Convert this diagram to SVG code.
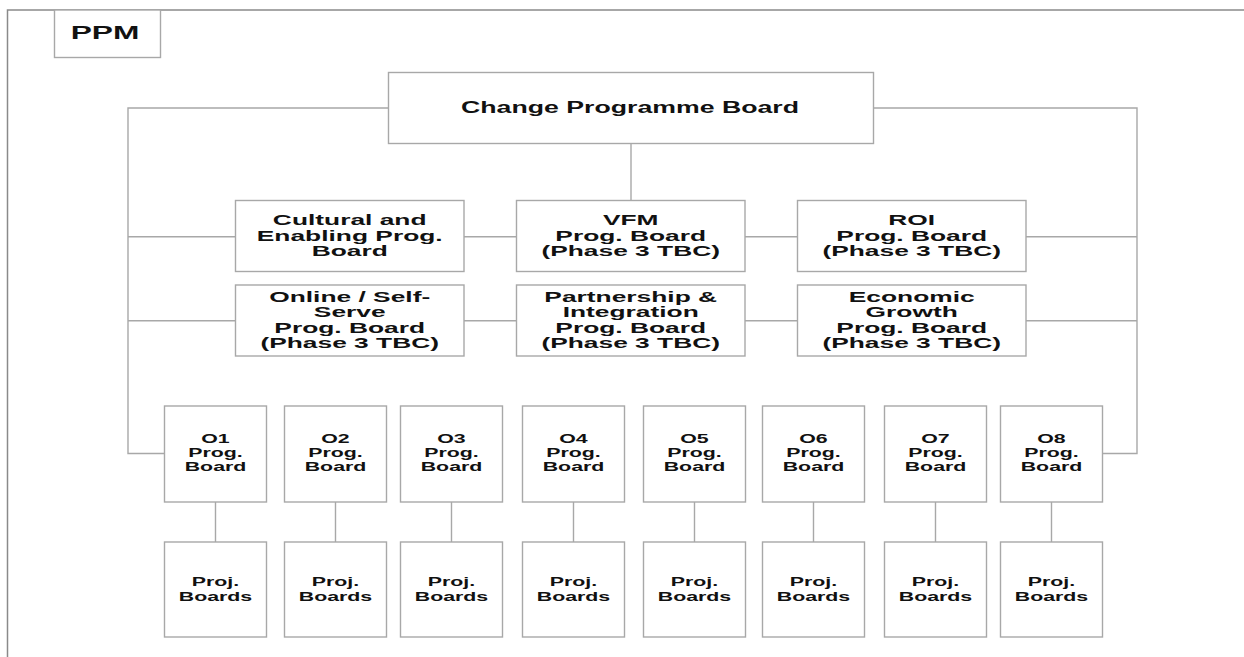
<svg xmlns="http://www.w3.org/2000/svg" width="1244" height="657" viewBox="0 0 1244 657">
<style>
.frame{fill:none;stroke:#8a8a8a;stroke-width:1.5}
.box{fill:#fff;stroke:#a8a8a8;stroke-width:1.4}
.ln{fill:none;stroke:#a8a8a8;stroke-width:1.4}
text{font-family:"Liberation Sans",Arial,sans-serif;font-weight:bold;fill:#111;text-anchor:middle}
.t14{font-size:15.5px}
.t12{font-size:13.5px}
.t15{font-size:17px}
.t16{font-size:18px}
</style>
<rect width="1244" height="657" fill="#fff"/>
<path class="frame" d="M7.5,657 V10 H1244"/>
<g id="ppm">
<rect class="box" x="54.5" y="10" width="106" height="47.5"/>
<g transform="translate(105,0) scale(1.76,1)"><text class="t16" x="0" y="39.5">PPM</text></g>
</g>
<g id="connectors">
<path class="ln" d="M631,143.5 V200.5"/>
<path class="ln" d="M388.5,108 H128 V453.5 H164.5"/>
<path class="ln" d="M873.5,108 H1137 V453.5 H1102.5"/>
<path class="ln" d="M128,236.7 H235.5 M464,236.7 H516.5 M745,236.7 H797.5 M1026,236.7 H1137"/>
<path class="ln" d="M128,320.7 H235.5 M464,320.7 H516.5 M745,320.7 H797.5 M1026,320.7 H1137"/>
<path class="ln" d="M215.5,502 V542 M335.5,502 V542 M451.5,502 V542 M573.5,502 V542 M694.5,502 V542 M813.5,502 V542 M935.5,502 V542 M1051.5,502 V542"/>
</g>
<g id="cpb">
<rect class="box" x="388.5" y="72.5" width="485" height="71"/>
<g transform="translate(630,0) scale(1.57,1)"><text class="t15" x="0" y="113">Change Programme Board</text></g>
</g>
<g id="cultural">
<rect class="box" x="235.5" y="200.5" width="228.5" height="71"/>
<g transform="translate(349.7,0) scale(1.7,1)"><text class="t14" x="0" y="225.5">Cultural and</text><text class="t14" x="0" y="241">Enabling Prog.</text><text class="t14" x="0" y="256.5">Board</text></g>
</g>
<g id="vfm">
<rect class="box" x="516.5" y="200.5" width="228.5" height="71"/>
<g transform="translate(630.7,0) scale(1.7,1)"><text class="t14" x="0" y="225.5">VFM</text><text class="t14" x="0" y="241">Prog. Board</text><text class="t14" x="0" y="256.5">(Phase 3 TBC)</text></g>
</g>
<g id="roi">
<rect class="box" x="797.5" y="200.5" width="228.5" height="71"/>
<g transform="translate(911.7,0) scale(1.7,1)"><text class="t14" x="0" y="225.5">ROI</text><text class="t14" x="0" y="241">Prog. Board</text><text class="t14" x="0" y="256.5">(Phase 3 TBC)</text></g>
</g>
<g id="online">
<rect class="box" x="235.5" y="285" width="228.5" height="71"/>
<g transform="translate(349.7,0) scale(1.7,1)"><text class="t14" x="0" y="302">Online / Self-</text><text class="t14" x="0" y="317.5">Serve</text><text class="t14" x="0" y="333">Prog. Board</text><text class="t14" x="0" y="348.5">(Phase 3 TBC)</text></g>
</g>
<g id="partnership">
<rect class="box" x="516.5" y="285" width="228.5" height="71"/>
<g transform="translate(630.7,0) scale(1.7,1)"><text class="t14" x="0" y="302">Partnership &amp;</text><text class="t14" x="0" y="317.5">Integration</text><text class="t14" x="0" y="333">Prog. Board</text><text class="t14" x="0" y="348.5">(Phase 3 TBC)</text></g>
</g>
<g id="economic">
<rect class="box" x="797.5" y="285" width="228.5" height="71"/>
<g transform="translate(911.7,0) scale(1.7,1)"><text class="t14" x="0" y="302">Economic</text><text class="t14" x="0" y="317.5">Growth</text><text class="t14" x="0" y="333">Prog. Board</text><text class="t14" x="0" y="348.5">(Phase 3 TBC)</text></g>
</g>
<g id="o1"><rect class="box" x="164.5" y="406" width="102" height="96"/><g transform="translate(215.5,0) scale(1.58,1)"><text class="t12" x="0" y="443.5">O1</text><text class="t12" x="0" y="457.5">Prog.</text><text class="t12" x="0" y="471.5">Board</text></g></g>
<g id="o2"><rect class="box" x="284.5" y="406" width="102" height="96"/><g transform="translate(335.5,0) scale(1.58,1)"><text class="t12" x="0" y="443.5">O2</text><text class="t12" x="0" y="457.5">Prog.</text><text class="t12" x="0" y="471.5">Board</text></g></g>
<g id="o3"><rect class="box" x="400.5" y="406" width="102" height="96"/><g transform="translate(451.5,0) scale(1.58,1)"><text class="t12" x="0" y="443.5">O3</text><text class="t12" x="0" y="457.5">Prog.</text><text class="t12" x="0" y="471.5">Board</text></g></g>
<g id="o4"><rect class="box" x="522.5" y="406" width="102" height="96"/><g transform="translate(573.5,0) scale(1.58,1)"><text class="t12" x="0" y="443.5">O4</text><text class="t12" x="0" y="457.5">Prog.</text><text class="t12" x="0" y="471.5">Board</text></g></g>
<g id="o5"><rect class="box" x="643.5" y="406" width="102" height="96"/><g transform="translate(694.5,0) scale(1.58,1)"><text class="t12" x="0" y="443.5">O5</text><text class="t12" x="0" y="457.5">Prog.</text><text class="t12" x="0" y="471.5">Board</text></g></g>
<g id="o6"><rect class="box" x="762.5" y="406" width="102" height="96"/><g transform="translate(813.5,0) scale(1.58,1)"><text class="t12" x="0" y="443.5">O6</text><text class="t12" x="0" y="457.5">Prog.</text><text class="t12" x="0" y="471.5">Board</text></g></g>
<g id="o7"><rect class="box" x="884.5" y="406" width="102" height="96"/><g transform="translate(935.5,0) scale(1.58,1)"><text class="t12" x="0" y="443.5">O7</text><text class="t12" x="0" y="457.5">Prog.</text><text class="t12" x="0" y="471.5">Board</text></g></g>
<g id="o8"><rect class="box" x="1000.5" y="406" width="102" height="96"/><g transform="translate(1051.5,0) scale(1.58,1)"><text class="t12" x="0" y="443.5">O8</text><text class="t12" x="0" y="457.5">Prog.</text><text class="t12" x="0" y="471.5">Board</text></g></g>
<g id="p1"><rect class="box" x="164.5" y="542" width="102" height="95"/><g transform="translate(215.5,0) scale(1.58,1)"><text class="t12" x="0" y="586.5">Proj.</text><text class="t12" x="0" y="601.5">Boards</text></g></g>
<g id="p2"><rect class="box" x="284.5" y="542" width="102" height="95"/><g transform="translate(335.5,0) scale(1.58,1)"><text class="t12" x="0" y="586.5">Proj.</text><text class="t12" x="0" y="601.5">Boards</text></g></g>
<g id="p3"><rect class="box" x="400.5" y="542" width="102" height="95"/><g transform="translate(451.5,0) scale(1.58,1)"><text class="t12" x="0" y="586.5">Proj.</text><text class="t12" x="0" y="601.5">Boards</text></g></g>
<g id="p4"><rect class="box" x="522.5" y="542" width="102" height="95"/><g transform="translate(573.5,0) scale(1.58,1)"><text class="t12" x="0" y="586.5">Proj.</text><text class="t12" x="0" y="601.5">Boards</text></g></g>
<g id="p5"><rect class="box" x="643.5" y="542" width="102" height="95"/><g transform="translate(694.5,0) scale(1.58,1)"><text class="t12" x="0" y="586.5">Proj.</text><text class="t12" x="0" y="601.5">Boards</text></g></g>
<g id="p6"><rect class="box" x="762.5" y="542" width="102" height="95"/><g transform="translate(813.5,0) scale(1.58,1)"><text class="t12" x="0" y="586.5">Proj.</text><text class="t12" x="0" y="601.5">Boards</text></g></g>
<g id="p7"><rect class="box" x="884.5" y="542" width="102" height="95"/><g transform="translate(935.5,0) scale(1.58,1)"><text class="t12" x="0" y="586.5">Proj.</text><text class="t12" x="0" y="601.5">Boards</text></g></g>
<g id="p8"><rect class="box" x="1000.5" y="542" width="102" height="95"/><g transform="translate(1051.5,0) scale(1.58,1)"><text class="t12" x="0" y="586.5">Proj.</text><text class="t12" x="0" y="601.5">Boards</text></g></g>
</svg>
